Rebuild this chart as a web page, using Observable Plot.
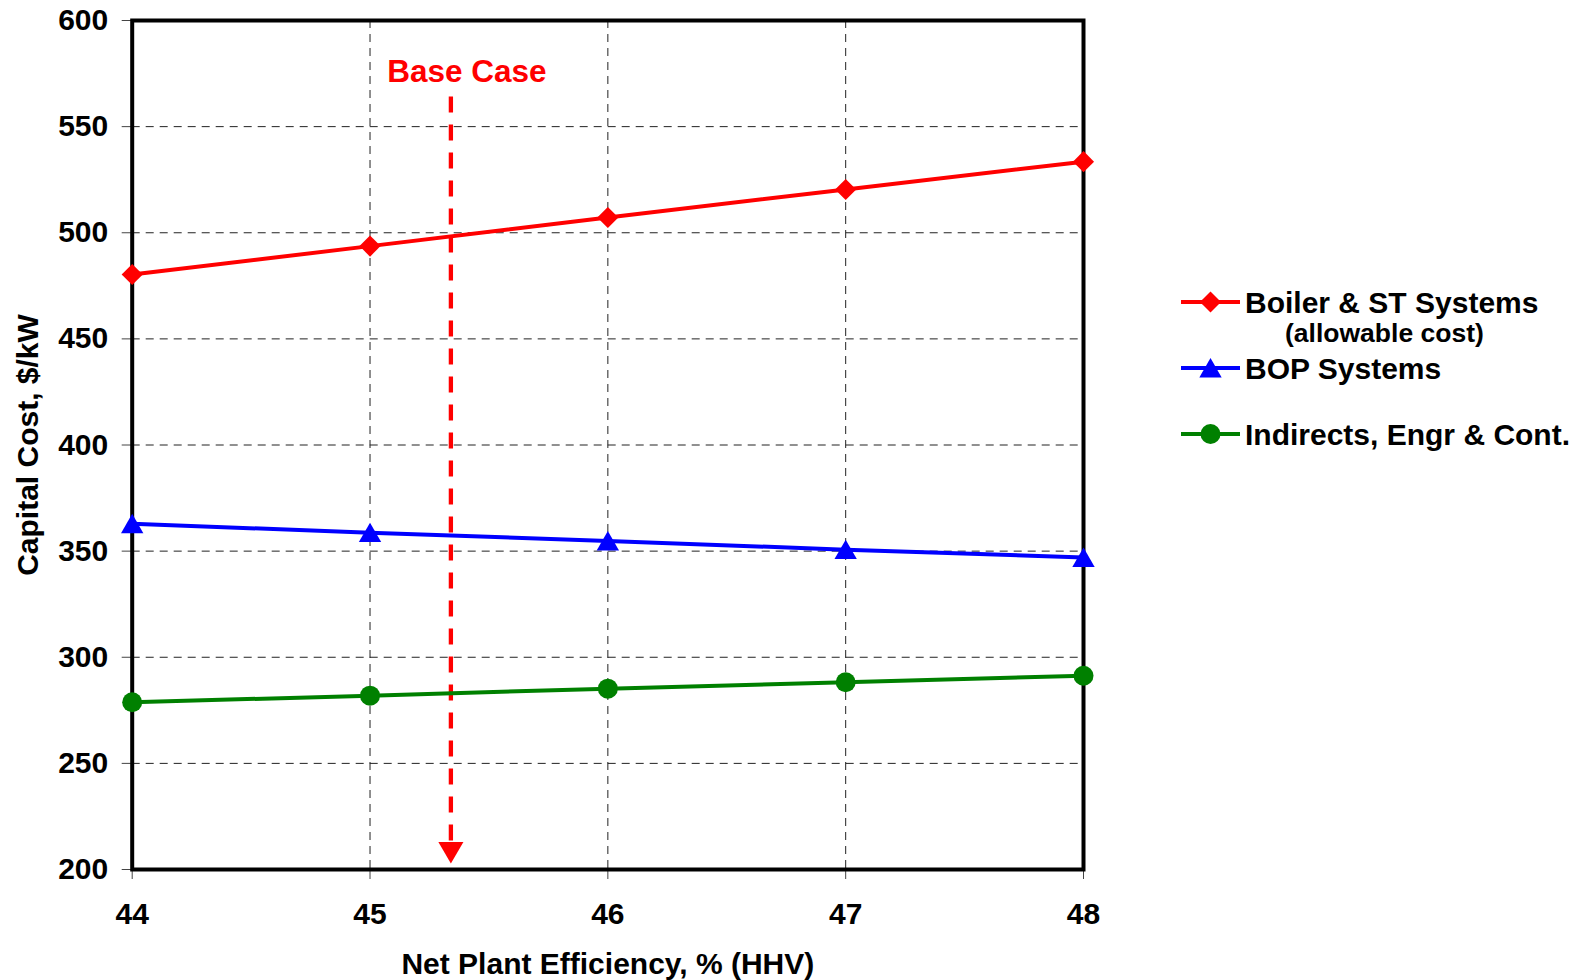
<!DOCTYPE html>
<html>
<head>
<meta charset="utf-8">
<script src="https://cdn.jsdelivr.net/npm/d3@7"></script>
<script src="https://cdn.jsdelivr.net/npm/@observablehq/plot@0.6"></script>
<style>
  html, body { margin: 0; padding: 0; background: #ffffff; }
  #wrap { position: relative; width: 1584px; height: 980px; overflow: hidden; background: #fff; }
  #wrap svg { display: block; }
  #legend { position: absolute; left: 0; top: 0; }
</style>
</head>
<body>
<div id="wrap"></div>
<script>
// ---------- data ----------
const efficiency = [44, 45, 46, 47, 48];                        // Net plant efficiency, % (HHV)
const boilerST   = [480.3, 493.7, 507.2, 520.4, 533.5];          // Boiler & ST Systems (allowable cost), $/kW
const bopSystems = [362.9, 358.7, 354.8, 350.7, 347.0];          // BOP Systems, $/kW
const indirects  = [278.8, 281.9, 285.2, 288.2, 291.3];          // Indirects, Engr & Cont., $/kW

const seriesNames   = ["Boiler & ST Systems", "BOP Systems", "Indirects, Engr & Cont."];
const seriesNote    = "(allowable cost)";
const seriesColors  = ["#FF0000", "#0000FF", "#008000"];
const seriesSymbols = ["diamond2", "triangle", "circle"];
const seriesValues  = [boilerST, bopSystems, indirects];

const xTicks = [44, 45, 46, 47, 48];
const yTicks = [200, 250, 300, 350, 400, 450, 500, 550, 600];
const xTitle = "Net Plant Efficiency, % (HHV)";
const yTitle = "Capital Cost, $/kW";

const baseCaseEfficiency = [45.34];       // base case efficiency, %
const baseCaseLabel      = "Base Case";
const baseCaseArrowTop   = 564;           // $/kW where the dashed arrow starts
const baseCaseArrowTip   = 203;           // $/kW where the arrow tip ends
const baseCaseLabelAt    = 576;           // $/kW of the label

// ---------- table ----------
const rows = [];
seriesNames.forEach((name, i) => {
  efficiency.forEach((e, j) => rows.push({series: name, eff: e, cost: seriesValues[i][j]}));
});

const FONT = "'Liberation Sans', Arial, Helvetica, sans-serif";
const markerR  = {"diamond2": 9.5, "triangle": 8.3, "circle": 10};
const markerDy = {"diamond2": 0, "triangle": 3, "circle": 0};

const marks = [
  Plot.gridY(yTicks.filter(t => t > 200 && t < 600), {stroke: "#222", strokeOpacity: 1, strokeWidth: 1, strokeDasharray: "8,6"}),
  Plot.gridX(xTicks.filter(t => t > 44 && t < 48), {stroke: "#222", strokeOpacity: 1, strokeWidth: 1, strokeDasharray: "8,6"}),
  Plot.axisY({ticks: yTicks, tickSize: 10, tickPadding: 14, stroke: "#444", strokeWidth: 1,
    fontSize: 30, fontWeight: "bold", fontFamily: FONT, fill: "#000",
    label: yTitle, labelAnchor: "center", labelOffset: 116, labelArrow: "none", tickFormat: d => String(d)}),
  Plot.axisX({ticks: xTicks, tickSize: 10, tickPadding: 23, stroke: "#444", strokeWidth: 1,
    fontSize: 30, fontWeight: "bold", fontFamily: FONT, fill: "#000",
    label: xTitle, labelAnchor: "center", labelOffset: 104, labelArrow: "none", tickFormat: d => String(d)}),
  Plot.frame({stroke: "#000", strokeWidth: 4}),
  Plot.ruleX(baseCaseEfficiency, {x: d => d, y1: baseCaseArrowTop, y2: baseCaseArrowTip + 8,
    stroke: "#FF0000", strokeWidth: 4.3, strokeDasharray: "16,12"}),
  Plot.dot(baseCaseEfficiency, {x: d => d, y: baseCaseArrowTip, symbol: "triangle", rotate: 180,
    r: 9.3, fill: "#FF0000", stroke: "none", dy: -14}),
  Plot.text(baseCaseEfficiency, {x: d => d, y: baseCaseLabelAt, text: () => baseCaseLabel, dx: 16,
    fill: "#FF0000", fontSize: 31.5, fontWeight: "bold", fontFamily: FONT})
];

seriesNames.forEach((name, i) => {
  const data = rows.filter(r => r.series === name);
  marks.push(Plot.line(data, {x: "eff", y: "cost", stroke: seriesColors[i], strokeWidth: 4}));
});
seriesNames.forEach((name, i) => {
  const data = rows.filter(r => r.series === name);
  const sym = seriesSymbols[i];
  marks.push(Plot.dot(data, {x: "eff", y: "cost", symbol: sym, r: markerR[sym], dy: markerDy[sym],
    fill: seriesColors[i], stroke: "none"}));
});

const chart = Plot.plot({
  width: 1584,
  height: 980,
  marginLeft: 131.7,
  marginRight: 501,
  marginTop: 20,
  marginBottom: 111,
  style: {fontFamily: FONT, fontSize: "30px", fontWeight: "bold", color: "#000", background: "#fff", overflow: "visible"},
  x: {domain: [44, 48]},
  y: {domain: [200, 600]},
  marks
});
document.getElementById("wrap").appendChild(chart);

// ---------- legend (overlay drawn with d3) ----------
const legend = d3.select("#wrap").append("svg")
  .attr("id", "legend").attr("width", 1584).attr("height", 980)
  .style("position", "absolute").style("left", "0px").style("top", "0px");

const rowY = [302, 368, 434];
const lineX0 = 1181, lineX1 = 1240, textX = 1245;
seriesNames.forEach((name, i) => {
  const g = legend.append("g").attr("transform", `translate(0,${rowY[i]})`);
  g.append("line").attr("x1", lineX0).attr("x2", lineX1).attr("y1", 0).attr("y2", 0)
    .attr("stroke", seriesColors[i]).attr("stroke-width", 4);
  const sym = seriesSymbols[i];
  const d3sym = sym === "diamond2" ? d3.symbolDiamond2 : sym === "triangle" ? d3.symbolTriangle : d3.symbolCircle;
  const r = markerR[sym];
  g.append("path").attr("d", d3.symbol(d3sym, Math.PI * r * r)())
    .attr("transform", `translate(${(lineX0 + lineX1) / 2},${markerDy[sym]})`)
    .attr("fill", seriesColors[i]);
  g.append("text").attr("x", textX).attr("y", 11)
    .attr("font-family", FONT).attr("font-size", 30).attr("font-weight", "bold").attr("fill", "#000")
    .text(name);
});
legend.append("text").attr("x", 1285).attr("y", 342)
  .attr("font-family", FONT).attr("font-size", 26.5).attr("font-weight", "bold").attr("fill", "#000")
  .text(seriesNote);
</script>
</body>
</html>
